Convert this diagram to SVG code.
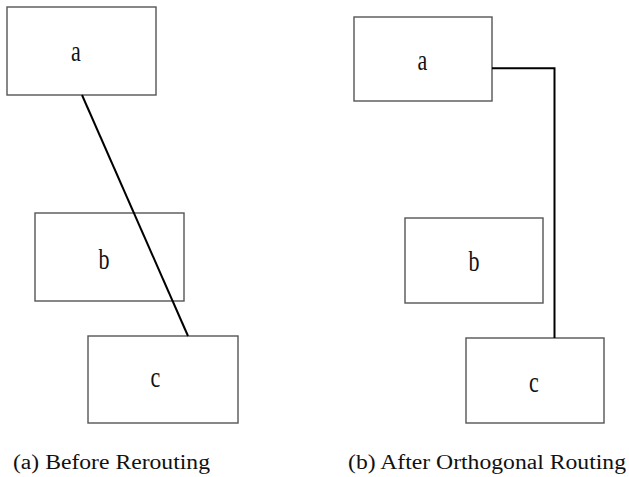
<svg xmlns="http://www.w3.org/2000/svg" width="629" height="477" viewBox="0 0 629 477">
<style>
.box{fill:#fff;stroke:#555;stroke-width:1.4}
.lbl{font-family:"Liberation Serif",serif;font-size:22px;fill:#111;text-anchor:middle}
.cap{font-family:"Liberation Serif",serif;font-size:20.5px;fill:#111}
.conn{fill:none;stroke:#000;stroke-width:2}
</style>
<rect width="629" height="477" fill="#fff"/>
<g id="left-a"><rect class="box" x="7" y="7" width="149" height="88"/><text class="lbl" transform="translate(76,61) scale(1,1.38)">a</text></g>
<g id="left-b"><rect class="box" x="35" y="213" width="149" height="88"/><text class="lbl" transform="translate(104,269) scale(1,1.38)">b</text></g>
<g id="left-c"><rect class="box" x="88" y="336" width="150" height="87"/><text class="lbl" transform="translate(155.5,387) scale(1,1.38)">c</text></g>
<g id="right-a"><rect class="box" x="354" y="17" width="138" height="84"/><text class="lbl" transform="translate(422.5,70) scale(1,1.38)">a</text></g>
<g id="right-b"><rect class="box" x="405" y="218" width="138" height="85"/><text class="lbl" transform="translate(474,271) scale(1,1.38)">b</text></g>
<g id="right-c"><rect class="box" x="466" y="338" width="138" height="85"/><text class="lbl" transform="translate(534,392) scale(1,1.38)">c</text></g>
<g id="connectors">
<line class="conn" x1="82" y1="95" x2="188" y2="336"/>
<polyline class="conn" points="492,68.3 554.5,68.3 554.5,338"/>
</g>
<text class="cap" x="13" y="469" textLength="197" lengthAdjust="spacingAndGlyphs">(a) Before Rerouting</text>
<text class="cap" x="348" y="469" textLength="278" lengthAdjust="spacingAndGlyphs">(b) After Orthogonal Routing</text>
</svg>
